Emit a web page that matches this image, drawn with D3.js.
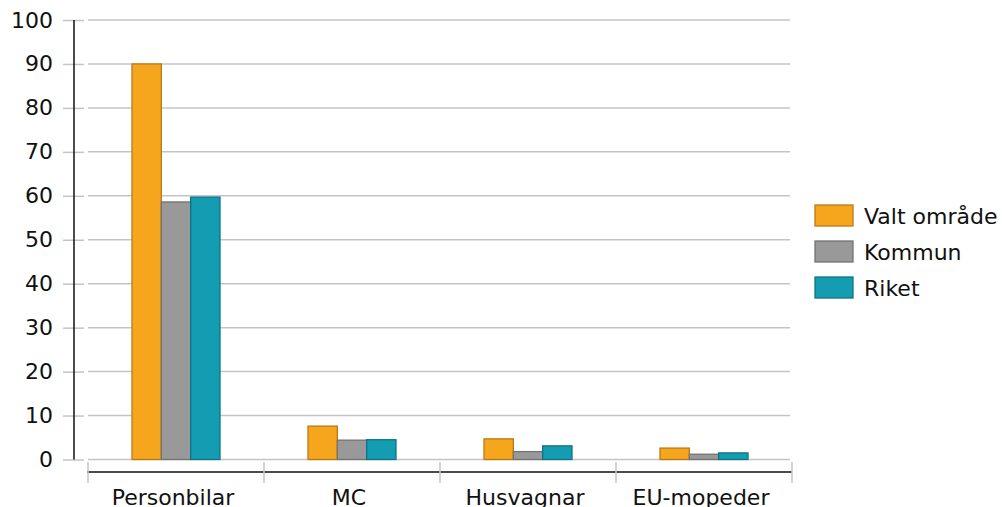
<!DOCTYPE html>
<html>
<head>
<meta charset="utf-8">
<script src="https://cdn.jsdelivr.net/npm/d3@7"></script>
<style>
  body { margin: 0; background: #fff; }
  text { font-family: "DejaVu Sans", sans-serif; fill: #111; }
</style>
</head>
<body>
<div id="chart"></div>
<script>
const categories = ["Personbilar", "MC", "Husvagnar", "EU-mopeder"]
const seriesNames = ["Valt område", "Kommun", "Riket"]
const valtOmrade = [90, 7.6, 4.7, 2.6]
const kommun = [58.6, 4.4, 1.8, 1.2]
const riket = [59.7, 4.5, 3.1, 1.5]
const yTicks = [0, 10, 20, 30, 40, 50, 60, 70, 80, 90, 100]

const fills = ["#f5a61c", "#999999", "#149cb2"]
const strokes = ["#b87a17", "#737373", "#0f7386"]

const W = 1002, H = 507
const plotLeft = 88, plotRight = 792, plotTop = 20, plotBottom = 459.5
const fontSize = "22px"

const svg = d3.select("#chart").append("svg")
    .attr("width", W)
    .attr("height", H)

const x = d3.scaleBand()
    .domain(categories)
    .range([plotLeft, plotRight])
    .padding(0)

const xInner = d3.scaleBand()
    .domain(seriesNames)
    .range([x.bandwidth() / 4, x.bandwidth() * 3 / 4])

const y = d3.scaleLinear()
    .domain([0, 100])
    .range([plotBottom, plotTop])

// gridlines
svg.append("g")
    .selectAll("line")
    .data(yTicks)
    .enter().append("line")
    .attr("x1", plotLeft)
    .attr("x2", plotRight - 2)
    .attr("y1", d => y(d))
    .attr("y2", d => y(d))
    .attr("stroke", "#c4c4c4")
    .attr("stroke-width", 1.5)

// y axis
const yAxis = d3.axisLeft(y)
    .tickValues(yTicks)
    .tickSizeInner(11)
    .tickSizeOuter(0)
    .tickPadding(10)

const yAxisGroup = svg.append("g")
    .attr("transform", "translate(74,0)")
    .call(yAxis)
yAxisGroup.select(".domain").remove()
yAxisGroup.selectAll(".tick line")
    .attr("x1", -11)
    .attr("x2", 10)
    .attr("stroke", "#c4c4c4")
    .attr("stroke-width", 1.5)
yAxisGroup.selectAll(".tick text")
    .attr("x", -21)
    .style("font-size", fontSize)
    .style("font-family", "DejaVu Sans, sans-serif")
    .attr("fill", "#111")
svg.append("line")
    .attr("x1", 74).attr("x2", 74)
    .attr("y1", y(100)).attr("y2", y(0))
    .attr("stroke", "#111")
    .attr("stroke-width", 1.5)

// bars
const rows = categories.map((c, i) => ({
    category: c,
    values: [valtOmrade[i], kommun[i], riket[i]]
}))

const groups = svg.append("g")
    .selectAll("g")
    .data(rows)
    .enter().append("g")
    .attr("transform", d => `translate(${x(d.category)},0)`)

groups.selectAll("rect")
    .data(d => d.values.map((v, j) => ({ name: seriesNames[j], value: v, j: j })))
    .enter().append("rect")
    .attr("x", d => xInner(d.name))
    .attr("y", d => y(d.value))
    .attr("width", xInner.bandwidth())
    .attr("height", d => y(0) - y(d.value))
    .attr("fill", d => fills[d.j])
    .attr("stroke", d => strokes[d.j])
    .attr("stroke-width", 1.3)

// x axis
const xAxisY = 472
const xAxis = d3.axisBottom(x).tickSize(0).tickPadding(17)
const xAxisGroup = svg.append("g")
    .attr("transform", `translate(0,${xAxisY})`)
    .call(xAxis)
xAxisGroup.select(".domain")
    .attr("d", `M${plotLeft - 1},0H${plotRight}`)
    .attr("stroke", "#111")
    .attr("stroke-width", 1.5)
xAxisGroup.selectAll(".tick text")
    .attr("x", -3)
    .style("font-size", fontSize)
    .style("font-family", "DejaVu Sans, sans-serif")
    .attr("fill", "#111")

const boundaries = [plotLeft].concat(categories.map(c => x(c) + x.bandwidth()))
svg.append("g")
    .selectAll("line")
    .data(boundaries)
    .enter().append("line")
    .attr("x1", d => d)
    .attr("x2", d => d)
    .attr("y1", xAxisY - 10)
    .attr("y2", xAxisY + 11)
    .attr("stroke", "#c4c4c4")
    .attr("stroke-width", 1.5)

// legend
const legend = svg.append("g")
    .attr("transform", "translate(815,205)")

legend.selectAll("rect")
    .data(seriesNames)
    .enter().append("rect")
    .attr("x", 0)
    .attr("y", (d, i) => i * 36)
    .attr("width", 38)
    .attr("height", 21)
    .attr("fill", (d, i) => fills[i])
    .attr("stroke", (d, i) => strokes[i])
    .attr("stroke-width", 1.3)

legend.selectAll("text")
    .data(seriesNames)
    .enter().append("text")
    .attr("x", 49)
    .attr("y", (d, i) => i * 36 + 11)
    .attr("dy", ".35em")
    .style("font-size", fontSize)
    .text(d => d)
</script>
</body>
</html>
